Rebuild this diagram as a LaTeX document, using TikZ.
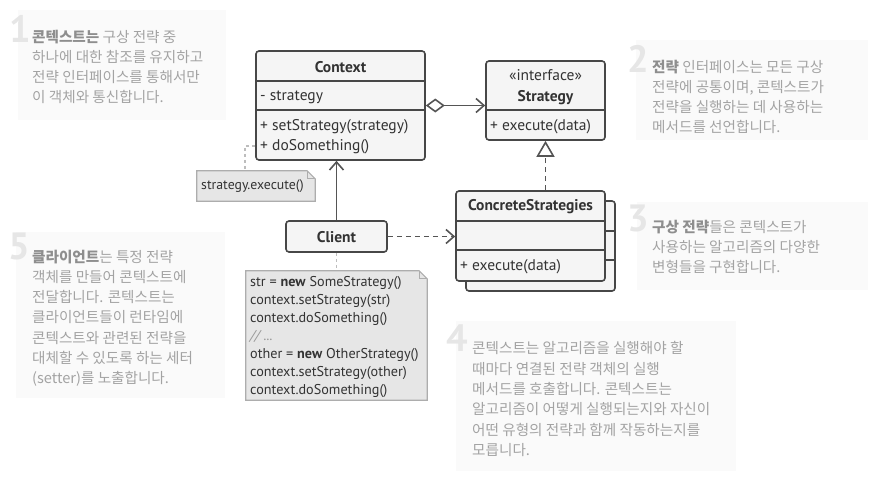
\documentclass[tikz,border=0pt]{standalone}
\usepackage{fontspec}
\setmainfont{PT Sans}
\newfontfamily\kr{Noto Sans CJK KR}
\usetikzlibrary{arrows.meta,calc}
\definecolor{umlfill}{HTML}{F5F5F5}
\definecolor{umlline}{HTML}{474747}
\definecolor{umltext}{HTML}{333333}
\definecolor{arrowc}{HTML}{555555}
\definecolor{notefill}{HTML}{E6E6E6}
\definecolor{noteline}{HTML}{ADADAD}
\definecolor{annbg}{HTML}{FAFAFA}
\definecolor{anntext}{HTML}{A3A3A3}
\definecolor{annbold}{HTML}{8E8E8E}
\definecolor{annnum}{HTML}{E6E6E6}
\newcommand\drawnote[1]{%
  \draw[notebox] (#1.south west) -- (#1.north west) -- ($(#1.north east)+(-8,0)$) -- ($(#1.north east)+(0,8)$) -- (#1.south east) -- cycle;
  \draw[notebox,fill=none] ($(#1.north east)+(-8,0)$) |- ($(#1.north east)+(0,8)$);}
\newcommand\annb[1]{{\bfseries\color{annbold}#1}}
\begin{document}
\begin{tikzpicture}[x=1pt,y=-1pt,
  umlbox/.style={draw=umlline,fill=umlfill,line width=1.6pt,rounded corners=3pt,inner sep=0pt},
  divider/.style={draw=umlline,line width=1.6pt},
  umltitle/.style={font=\fontsize{15.5}{17}\selectfont\bfseries,text=umltext,inner sep=0pt},
  umlitem/.style={font=\fontsize{15.5}{17}\selectfont,text=umltext,inner sep=0pt,anchor=west},
  conn/.style={draw=arrowc,line width=1.6pt},
  openhead/.style={-{Straight Barb[length=8pt,width=14pt]}},
  notebox/.style={draw=noteline,fill=notefill,line width=1.2pt},
  notelink/.style={draw=noteline!80,line width=1.2pt,dash pattern=on 3pt off 3pt},
  notetext/.style={font=\fontsize{14.2}{18}\selectfont,text=umltext,inner sep=0pt,align=left},
  annbox/.style={fill=annbg,draw=none,inner sep=0pt,anchor=north west},
  annnumber/.style={font=\fontsize{38}{38}\selectfont\bfseries,text=annnum,inner sep=0pt,anchor=north west},
  anntextst/.style={font=\kr\fontsize{14.6}{20.3}\selectfont,text=anntext,inner sep=0pt,align=left,anchor=north west}]
\useasboundingbox (0,0) rectangle (878,482);
% annotation backgrounds
\node[annbox,minimum width=208pt,minimum height=110pt] (a1) at (18,10) {};
\node[annbox,minimum width=232pt,minimum height=100pt] (a2) at (636,40) {};
\node[annbox,minimum width=231pt,minimum height=88pt] (a3) at (637,202) {};
\node[annbox,minimum width=280pt,minimum height=150pt] (a4) at (456,321) {};
\node[annbox,minimum width=209pt,minimum height=166pt] (a5) at (16,232) {};
% numbers
\node[annnumber] (n1) at (9,15) {1};
\node[annnumber] (n2) at (627,45) {2};
\node[annnumber] (n3) at (627,205) {3};
\node[annnumber] (n4) at (446,325) {4};
\node[annnumber] (n5) at (8,233) {5};
% annotation texts
\node[anntextst] (t1) at (32,29.5) {\annb{콘텍스트는} 구상 전략 중\\하나에 대한 참조를 유지하고\\전략 인터페이스를 통해서만\\이 객체와 통신합니다.};
\node[anntextst] (t2) at (652,59.5) {\annb{전략} 인터페이스는 모든 구상\\전략에 공통이며, 콘텍스트가\\전략을 실행하는 데 사용하는\\메서드를 선언합니다.};
\node[anntextst] (t3) at (652,219.5) {\annb{구상 전략}들은 콘텍스트가\\사용하는 알고리즘의 다양한\\변형들을 구현합니다.};
\node[anntextst] (t4) at (472,341.5) {콘텍스트는 알고리즘을 실행해야 할\\때마다 연결된 전략 객체의 실행\\메서드를 호출합니다. 콘텍스트는\\알고리즘이 어떻게 실행되는지와 자신이\\어떤 유형의 전략과 함께 작동하는지를\\모릅니다.};
\node[anntextst] (t5) at (32,249.5) {\annb{클라이언트}는 특정 전략\\객체를 만들어 콘텍스트에\\전달합니다. 콘텍스트는\\클라이언트들이 런타임에\\콘텍스트와 관련된 전략을\\대체할 수 있도록 하는 세터\\(setter)를 노출합니다.};
% Context
\node[umlbox,minimum width=169pt,minimum height=109pt] (ctx) at (340.5,105.5) {};
\draw[divider] ($(ctx.north west)+(0,31)$) -- ($(ctx.north east)+(0,31)$);
\draw[divider] ($(ctx.north west)+(0,60)$) -- ($(ctx.north east)+(0,60)$);
\node[umltitle] (ctxname) at (340.5,67) {Context};
\node[umlitem] (ctxa) at (260,97) {- strategy};
\node[umlitem] (ctxm1) at (260,127) {+ setStrategy(strategy)};
\node[umlitem] (ctxm2) at (260,147) {+ doSomething()};
% Strategy
\node[umlbox,minimum width=119pt,minimum height=79pt] (strat) at (545.5,100.5) {};
\draw[divider] ($(strat.north west)+(0,50)$) -- ($(strat.north east)+(0,50)$);
\node[font=\fontsize{15.5}{17}\selectfont,text=umltext,inner sep=0pt] (stster) at (545.5,75) {«interface»};
\node[umltitle] (stname) at (545.5,98) {Strategy};
\node[umlitem] (stm) at (490,127) {+ execute(data)};
% ConcreteStrategies (stacked)
\node[umlbox,minimum width=149pt,minimum height=90pt] (cs2) at (540.5,246) {};
\draw[divider] ($(cs2.north west)+(0,31)$) -- ($(cs2.north east)+(0,31)$);
\draw[divider] ($(cs2.north west)+(0,60)$) -- ($(cs2.north east)+(0,60)$);
\node[umlbox,minimum width=149pt,minimum height=90pt] (cs) at (530.5,236) {};
\draw[divider] ($(cs.north west)+(0,31)$) -- ($(cs.north east)+(0,31)$);
\draw[divider] ($(cs.north west)+(0,60)$) -- ($(cs.north east)+(0,60)$);
\node[umltitle] (csname) at (530.5,207) {ConcreteStrategies};
\node[umlitem] (csm) at (460,267) {+ execute(data)};
% Client
\node[umlbox,minimum width=101pt,minimum height=31pt] (cl) at (336.5,236.5) {};
\node[umltitle] (clname) at (336.5,237) {Client};
% notes
\node[inner sep=0pt,minimum width=118pt,minimum height=30pt] (snote) at (256,186) {};
\drawnote{snote}
\node[font=\fontsize{13.8}{16}\selectfont,text=umltext,inner sep=0pt,anchor=west] (snotet) at (201,186.5) {strategy.execute()};
\node[inner sep=0pt,minimum width=181pt,minimum height=129pt] (cnote) at (336.5,335.5) {};
\drawnote{cnote}
\node[notetext,anchor=north west] (cnotet) at (250,276.5) {str = \textbf{new} SomeStrategy()\\context.setStrategy(str)\\context.doSomething()\\{\color{gray!80}\itshape // ...}\\other = \textbf{new} OtherStrategy()\\context.setStrategy(other)\\context.doSomething()};
% connectors
\draw[conn,{Diamond[open,length=19pt,width=14pt]}-{Straight Barb[length=8pt,width=14pt]}] (ctx.east) -- (ctx.east -| strat.west);
\draw[conn,dashed,dash pattern=on 5pt off 4pt,-{Triangle[open,length=16pt,width=18pt]}] (cs.north -| strat.south) -- (strat.south);
\draw[conn,openhead] (cl.north) -- (cl.north |- ctx.south);
\draw[conn,dash pattern=on 5pt off 4pt,openhead] (cl.east) -- (cl.east -| cs.west);
\draw[notelink] (cl.south) -- (cl.south |- cnote.north);
\coordinate (sbend) at (245,146);
\draw[notelink] (sbend -| ctx.west) -- (sbend) -- (sbend |- snote.north);
\end{tikzpicture}
\end{document}
